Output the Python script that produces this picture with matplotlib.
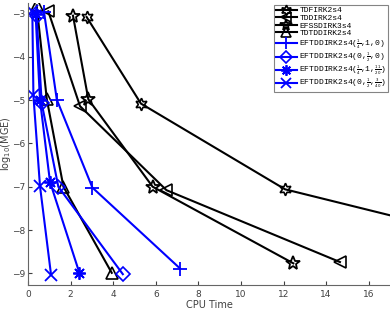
import matplotlib
matplotlib.use("Agg")
import matplotlib.pyplot as plt
from matplotlib.mathtext import MathTextParser

# data
tdfirk_x = [2.75, 5.3, 12.07, 28.0]
tdfirk_y = [-3.08, -5.08, -7.06, -9.0]
tddirk_x = [0.95, 2.44, 6.5, 14.65]
tddirk_y = [-2.95, -5.14, -7.08, -8.74]
efss_x = [2.11, 2.83, 5.85, 12.46]
efss_y = [-3.05, -4.98, -7.0, -8.77]
tdtd_x = [0.4, 0.88, 1.66, 3.93]
tdtd_y = [-2.81, -4.98, -7.0, -8.99]
ef1_x = [0.75, 1.35, 3.02, 7.14]
ef1_y = [-2.97, -4.99, -7.02, -8.89]
ef2_x = [0.4, 0.64, 1.42, 4.45]
ef2_y = [-3.05, -5.07, -7.0, -9.02]
ef3_x = [0.35, 0.56, 1.03, 2.41]
ef3_y = [-3.0, -5.0, -6.89, -8.99]
ef4_x = [0.2, 0.25, 0.56, 1.08]
ef4_y = [-2.95, -4.89, -6.99, -9.04]


def fr(a, b):
    s = r"$\genfrac{}{}{0.4}{2}{%s}{%s}$" % (a, b)
    try:
        MathTextParser('path').parse(s, dpi=100)
        return s
    except Exception:
        return r"$\frac{%s}{%s}$" % (a, b)


labels = ["TDFIRK2s4", "TDDIRK2s4", "EFSSDIRK3s4", "TDTDDIRK2s4",
          "EFTDDIRK2s4(" + fr(1, 4) + ",1,0)",
          "EFTDDIRK2s4(0," + fr(1, 2) + ",0)",
          "EFTDDIRK2s4(" + fr(1, 4) + ",1," + fr(11, 20) + ")",
          "EFTDDIRK2s4(0," + fr(1, 2) + "," + fr(3, 40) + ")"]
xticks = [0, 2, 4, 6, 8, 10, 12, 14, 16]
yticks = [-9, -8, -7, -6, -5, -4, -3]

fig = plt.figure(figsize=(3.9, 3.13), dpi=100)
ax = fig.add_axes([0.072, 0.0895, 0.928, 0.9005])

lw = 1.5
ms = 8
ax.plot(tdfirk_x, tdfirk_y, color='k', lw=lw, marker=(6, 1, 0), mfc='none', ms=ms+1, mew=1.2, label=labels[0])
ax.plot(tddirk_x, tddirk_y, color='k', lw=lw, marker='<', mfc='none', ms=ms, mew=1.2, label=labels[1])
ax.plot(efss_x, efss_y, color='k', lw=lw, marker='*', mfc='none', ms=ms+2, mew=1.3, label=labels[2])
ax.plot(tdtd_x, tdtd_y, color='k', lw=lw, marker='^', mfc='none', ms=ms, mew=1.2, label=labels[3])
ax.plot(ef1_x, ef1_y, color='#0000ff', lw=lw, marker='+', ms=ms+2, mew=1.3, label=labels[4])
ax.plot(ef2_x, ef2_y, color='#0000ff', lw=lw, marker='D', mfc='none', ms=ms-1, mew=1.2, label=labels[5])
ax.plot(ef3_x, ef3_y, color='#0000ff', lw=lw, marker=(8, 2, 0), ms=ms+1, mew=1.3, label=labels[6])
ax.plot(ef4_x, ef4_y, color='#0000ff', lw=lw, marker='x', ms=ms, mew=1.3, label=labels[7])

ax.set_xlim(0, 17)
ax.set_ylim(-9.27, -2.76)
ax.set_xticks(xticks)
ax.set_yticks(yticks)
ax.tick_params(direction='in', labelsize=6.5, colors='0.25', length=3)
ax.tick_params(axis='y', pad=2)
for s in ['top', 'right']:
    ax.spines[s].set_visible(False)
for s in ['left', 'bottom']:
    ax.spines[s].set_color('0.4')
ax.set_xlabel("CPU Time", fontsize=7, color='0.25', labelpad=1)
ax.set_ylabel(r"log$_{10}$(MGE)", fontsize=7, color='0.25')
ax.yaxis.set_label_coords(-0.042, 0.5)

leg = ax.legend(loc='upper right', prop={'family': 'Liberation Mono', 'size': 5.8},
                frameon=True, fancybox=False, edgecolor='0.4', handlelength=2.6,
                borderpad=0.2, labelspacing=0.0, handletextpad=0.3,
                borderaxespad=0.25, markerscale=0.85)
leg.get_frame().set_linewidth(0.8)

fig.savefig("out.png", dpi=100)
